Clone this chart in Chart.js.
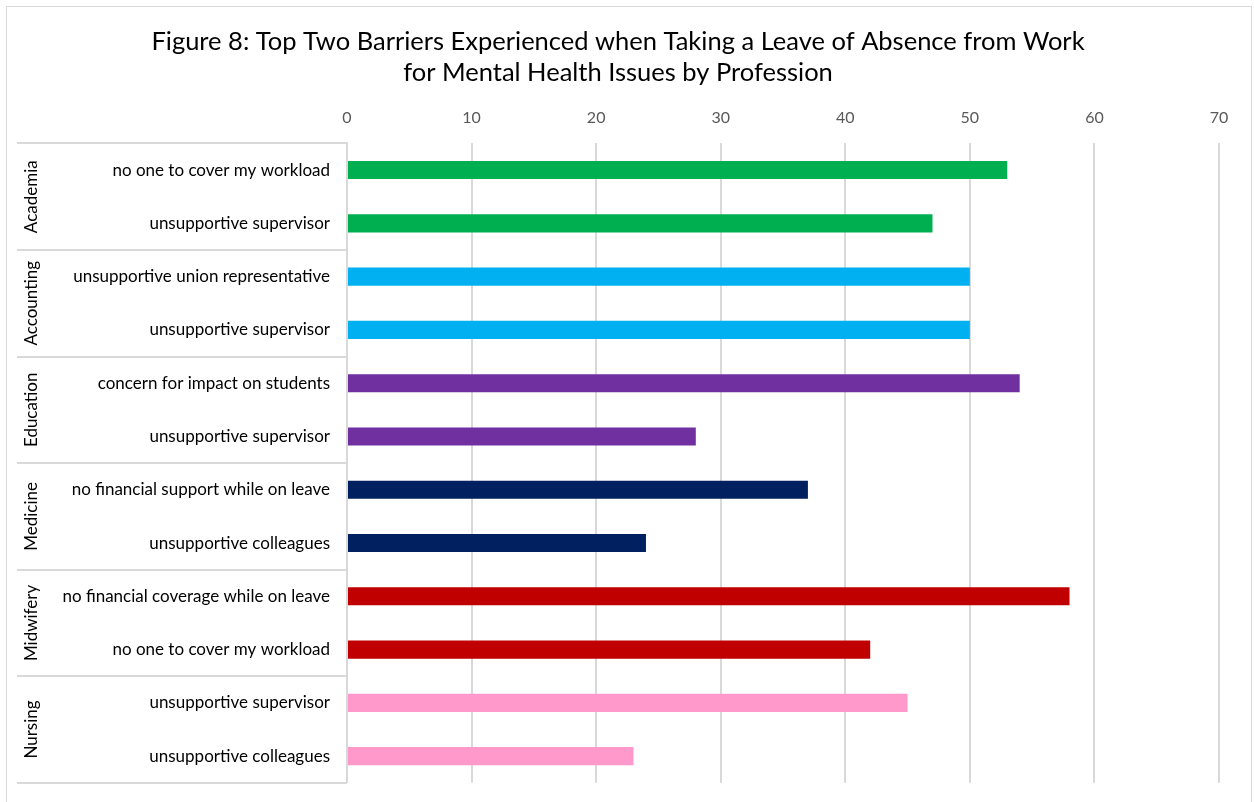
<!DOCTYPE html>
<html>
<head>
<meta charset="utf-8">
<style>
  html, body { margin: 0; padding: 0; background: #fff; }
  #wrap { position: relative; width: 1254px; height: 802px; }
</style>
<script src="https://cdn.jsdelivr.net/npm/chart.js"></script>
</head>
<body>
<div id="wrap"><canvas id="barriersChart" width="1254" height="802"></canvas></div>
<script>
// data
const professions = ['Academia', 'Accounting', 'Education', 'Medicine', 'Midwifery', 'Nursing'];
const barProfession = ['Academia', 'Academia', 'Accounting', 'Accounting', 'Education', 'Education',
                       'Medicine', 'Medicine', 'Midwifery', 'Midwifery', 'Nursing', 'Nursing'];
const barriers = [
  'no one to cover my workload', 'unsupportive supervisor',
  'unsupportive union representative', 'unsupportive supervisor',
  'concern for impact on students', 'unsupportive supervisor',
  'no financial support while on leave', 'unsupportive colleagues',
  'no financial coverage while on leave', 'no one to cover my workload',
  'unsupportive supervisor', 'unsupportive colleagues'
];
const counts = [53, 47, 50, 50, 54, 28, 37, 24, 58, 42, 45, 23];
const xTicks = [0, 10, 20, 30, 40, 50, 60, 70];

const professionColors = {
  Academia: '#00b050',
  Accounting: '#00b0f0',
  Education: '#7030a0',
  Medicine: '#002060',
  Midwifery: '#c00000',
  Nursing: '#ff99cc'
};

const FONT = 'Lato, "Open Sans", sans-serif';
const gridColor = '#d9d9d9';

// group boxes on the left + outer frame
const groupLabels = {
  id: 'groupLabels',
  beforeDraw(chart) {
    const c = chart.ctx;
    c.save();
    c.strokeStyle = gridColor;
    c.lineWidth = 1;
    c.strokeRect(6.5, 6.5, 1245, 820);
    c.restore();
  },
  afterDraw(chart) {
    const c = chart.ctx;
    const area = chart.chartArea;
    const step = (area.bottom - area.top) / barriers.length;
    const left = 17;
    c.save();
    c.strokeStyle = gridColor;
    c.lineWidth = 2;
    let start = 0;
    for (let i = 1; i <= barProfession.length; i++) {
      if (i === barProfession.length || barProfession[i] !== barProfession[start]) {
        const y0 = area.top + start * step;
        const y1 = area.top + i * step;
        c.beginPath();
        c.moveTo(left, Math.round(y0));
        c.lineTo(area.left, Math.round(y0));
        c.moveTo(left, Math.round(y1));
        c.lineTo(area.left, Math.round(y1));
        c.stroke();
        c.save();
        c.translate(32, (y0 + y1) / 2);
        c.rotate(-Math.PI / 2);
        c.fillStyle = '#000';
        c.font = '17px ' + FONT;
        c.textAlign = 'center';
        c.textBaseline = 'middle';
        c.fillText(barProfession[start], 0, 0);
        c.restore();
        start = i;
      }
    }
    c.restore();
  }
};

new Chart(document.getElementById('barriersChart'), {
  type: 'bar',
  data: {
    labels: barriers,
    datasets: [{
      data: counts,
      backgroundColor: barProfession.map(p => professionColors[p]),
      barPercentage: 0.34,
      categoryPercentage: 1.0
    }]
  },
  options: {
    indexAxis: 'y',
    responsive: false,
    animation: false,
    layout: { padding: { left: 17, right: 35, top: 0, bottom: 11 } },
    plugins: {
      legend: { display: false },
      tooltip: { enabled: false },
      title: {
        display: true,
        text: ['Figure 8: Top Two Barriers Experienced when Taking a Leave of Absence from Work',
               'for Mental Health Issues by Profession'],
        color: '#000',
        font: { family: FONT, size: 25.5, weight: 'normal', lineHeight: 1.22 },
        padding: { top: 26, bottom: 4 }
      }
    },
    scales: {
      x: {
        position: 'top',
        min: 0,
        max: 70,
        afterBuildTicks(scale) { scale.ticks = xTicks.map(v => ({ value: v })); },
        grid: { color: gridColor, lineWidth: 2, drawTicks: false },
        border: { display: false },
        ticks: { color: '#595959', padding: 16, font: { family: FONT, size: 16 } }
      },
      y: {
        afterFit(scale) { scale.width = 330; },
        grid: { display: false },
        border: { display: true, color: gridColor, width: 2 },
        ticks: { color: '#000', padding: 9, font: { family: FONT, size: 17 } }
      }
    }
  },
  plugins: [groupLabels]
});
</script>
</body>
</html>
